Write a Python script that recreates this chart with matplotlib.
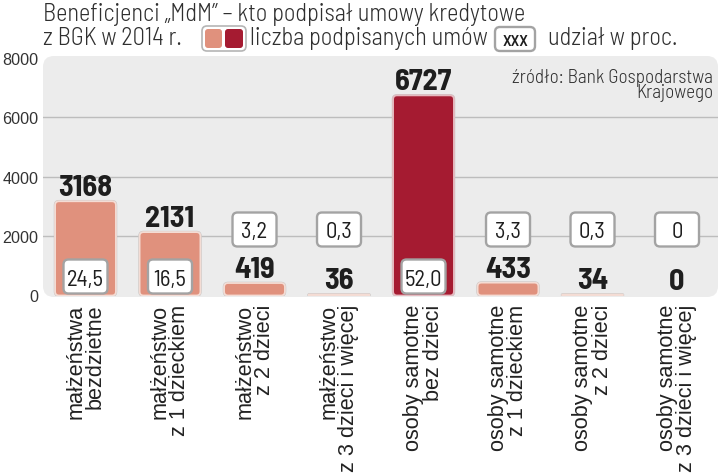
import matplotlib
matplotlib.use("Agg")
import matplotlib.pyplot as plt
from matplotlib import font_manager as fm
from matplotlib.patches import FancyBboxPatch
from matplotlib.transforms import IdentityTransform

# ---------------- data ----------------
categories = ["małżeństwa\nbezdzietne", "małżeństwo\nz 1 dzieckiem", "małżeństwo\nz 2 dzieci",
              "małżeństwo\nz 3 dzieci i więcej", "osoby samotne\nbez dzieci",
              "osoby samotne\nz 1 dzieckiem", "osoby samotne\nz 2 dzieci",
              "osoby samotne\nz 3 dzieci i więcej"]
contracts = [3168, 2131, 419, 36, 6727, 433, 34, 0]
shares = ["24,5", "16,5", "3,2", "0,3", "52,0", "3,3", "0,3", "0"]
yticks = [0, 2000, 4000, 6000, 8000]
highlight = 4  # the largest group, drawn in dark red

title1 = "Beneficjenci \u201eMdM\u201d \u2013 kto podpisał umowy kredytowe"
title2a = "z BGK w 2014 r."
title2b = "liczba podpisanych umów"
title2c = "udział w proc."
legend_box = "XXX"
source1 = "źródło: Bank Gospodarstwa"
source2 = "Krajowego"

# ---------------- fonts ----------------
avail = {f.name for f in fm.fontManager.ttflist}
def pick(*names):
    for n in names:
        if n in avail:
            return n
    return "DejaVu Sans"
COND = pick("Barlow Semi Condensed", "Roboto Condensed", "Encode Sans Semi Condensed",
            "Liberation Sans Narrow", "PT Sans Narrow", "DejaVu Sans")
ARIAL = pick("Liberation Sans", "Arimo", "DejaVu Sans")
STRETCH = "condensed" if COND == "DejaVu Sans" else "normal"

SALMON = "#e0917d"
CRIMSON = "#a51b31"
TXT = "#2f2f2f"
BG = "#ececec"

W, H = 720, 477
fig = plt.figure(figsize=(W / 100, H / 100), dpi=100)
renderer = fig.canvas.get_renderer()

def width_px(s, **kw):
    t = fig.text(0, 0, s, **kw)
    w = t.get_window_extent(renderer).width
    t.remove()
    return w

def fit(s, target, size0, lo, hi, **kw):
    w = width_px(s, fontsize=size0, **kw)
    return max(lo, min(hi, size0 * target / w))

fk = dict(family=COND, fontstretch=STRETCH)
title_fs = fit(title1, 484, 15, 10, 24, weight=300, **fk)
src_fs = fit(source1, 200, 12, 9, 18, weight=300, **fk)
val_fs = fit("3168", 54, 18, 12, 24, weight="bold", **fk)
pct_fs = fit("24,5", 37, 15, 10, 20, **fk)
xxx_fs = fit(legend_box, 26, 11, 8, 16, weight=600, **fk)
xl_fs = fit("małżeństwa", 115, 15, 12, 19, family=ARIAL)

# ---------------- axes ----------------
y0_px, ytop_px = 296.5, 58.5
ax_l, ax_r = 43, 718
ax = fig.add_axes([ax_l / W, (H - y0_px) / H, (ax_r - ax_l) / W, (y0_px - ytop_px) / H])
ax.set_facecolor("none")
xlo, xhi = -0.503, 7.485
ax.set_xlim(xlo, xhi)
ax.set_ylim(yticks[0], yticks[-1])
for s in ax.spines.values():
    s.set_visible(False)

sx = (ax_r - ax_l) / (xhi - xlo)          # px per x unit
sy = (y0_px - ytop_px) / (yticks[-1] - yticks[0])  # px per y unit
aspect = sx / sy

# background panel
bg = FancyBboxPatch((ax_l, H - 298), ax_r - ax_l, 298 - 57,
                    boxstyle="round,pad=0,rounding_size=11", fc=BG, ec="none",
                    transform=IdentityTransform(), zorder=-5)
fig.add_artist(bg)

# grid lines
for yv in yticks[1:-1]:
    ax.axhline(yv, color="#bdbdbd", lw=1.0, zorder=1)

ax.set_yticks(yticks)
ax.set_yticklabels([str(v) for v in yticks], family=ARIAL, fontsize=11.6, color="#333333")
ax.tick_params(axis="y", length=0, pad=3.5)

ax.set_xticks(range(len(categories)))
ax.set_xticklabels(categories, rotation=90, ha="center", va="top", multialignment="right",
                   family=ARIAL, fontsize=xl_fs, color="#222222", linespacing=0.92)
ax.tick_params(axis="x", length=0, pad=6)

# ---------------- bars ----------------
colors = [CRIMSON if i == highlight else SALMON for i in range(len(contracts))]
bars = ax.bar(range(len(contracts)), contracts, width=0.72, color=colors, zorder=2)
for i, rect in enumerate(bars):
    rect.set_visible(False)
    x0, w, h = rect.get_x(), rect.get_width(), rect.get_height()
    if h <= 0:
        continue
    hpx = h * sy
    r = min(4.0, hpx / 2) / sx
    pad = 1.3 / sx
    outer = FancyBboxPatch((x0, 0), w, h, boxstyle=f"round,pad={pad},rounding_size={r + pad}",
                           mutation_aspect=aspect, fc="#c4c4c4", ec="none", zorder=2)
    ax.add_patch(outer)
    edge = "#f4dcd4" if i != highlight else "#e6b9bf"
    inner = FancyBboxPatch((x0, 0), w, h, boxstyle=f"round,pad=0,rounding_size={r}",
                           mutation_aspect=aspect, fc=colors[i], ec=edge, lw=1.3, zorder=3)
    ax.add_patch(inner)

# value labels
for i, v in enumerate(contracts):
    ax.annotate(f"{v}", (i, v), xytext=(0, 6), textcoords="offset pixels",
                ha="center", va="baseline", fontsize=val_fs, weight="bold",
                color="#1e1e1e", zorder=5, **fk)

# percentage boxes
bw, bh = 44 / sx, 34 / sy
for i, (v, s) in enumerate(zip(contracts, shares)):
    inside = v * sy > 55
    yc = (19 if inside else 66) / sy
    box = FancyBboxPatch((i - bw / 2, yc - bh / 2), bw, bh,
                         boxstyle=f"round,pad=0,rounding_size={5 / sx}",
                         mutation_aspect=aspect, fc="white", ec="#a3a3a3", lw=1.7, zorder=6)
    ax.add_patch(box)
    ax.text(i, yc, s, ha="center", va="center_baseline", fontsize=pct_fs,
            color="#1e1e1e", zorder=7, **fk)

# ---------------- header ----------------
def ftext(x, y, s, **kw):
    return fig.text(x / W, 1 - y / H, s, **kw)

ftext(43, 21, title1, ha="left", va="baseline", fontsize=title_fs, weight=300, color=TXT, **fk)
ftext(43, 45, title2a, ha="left", va="baseline", fontsize=title_fs, weight=300, color=TXT, **fk)
ftext(250, 45, title2b, ha="left", va="baseline", fontsize=title_fs, weight=300, color=TXT, **fk)
ftext(548, 45, title2c, ha="left", va="baseline", fontsize=title_fs, weight=300, color=TXT, **fk)

def fig_box(x0, y0, x1, y1, fc, ec, lw, r, z=2):
    p = FancyBboxPatch((x0, H - y1), x1 - x0, y1 - y0,
                       boxstyle=f"round,pad=0,rounding_size={r}", fc=fc, ec=ec, lw=lw,
                       transform=IdentityTransform(), zorder=z)
    fig.add_artist(p)

# legend swatches
fig_box(202, 27, 246, 52, "white", "#b5b5b5", 1.2, 5, z=2)
fig_box(205, 30, 222, 49, SALMON, "none", 0, 3, z=3)
fig_box(225, 30, 243, 49, CRIMSON, "none", 0, 3, z=3)
# legend percentage box
fig_box(495, 28, 535, 52, "white", "#a3a3a3", 1.7, 5, z=2)
ftext(515, 40, legend_box, ha="center", va="center_baseline", fontsize=xxx_fs, weight=600,
      color="#1e1e1e", zorder=4, **fk)

# source
ftext(713, 83, source1, ha="right", va="baseline", fontsize=src_fs, weight=300, color=TXT, **fk)
ftext(713, 98, source2, ha="right", va="baseline", fontsize=src_fs, weight=300, color=TXT, **fk)

fig.savefig("out.png", dpi=100)
